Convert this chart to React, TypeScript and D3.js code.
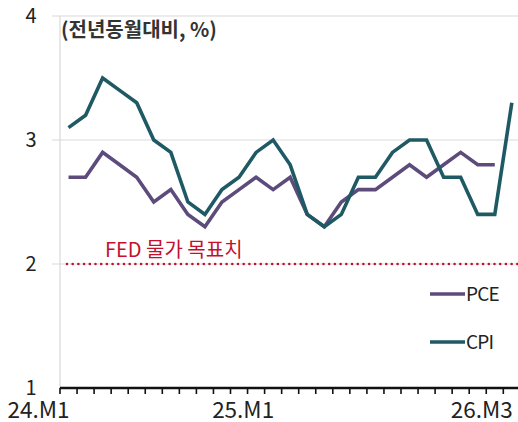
import React from "react";
import * as d3 from "d3";

const months = [
  "24.M1","24.M2","24.M3","24.M4","24.M5","24.M6","24.M7","24.M8","24.M9","24.M10","24.M11","24.M12",
  "25.M1","25.M2","25.M3","25.M4","25.M5","25.M6","25.M7","25.M8","25.M9","25.M10","25.M11","25.M12",
  "26.M1","26.M2","26.M3",
];
const cpi = [3.1,3.2,3.5,3.4,3.3,3.0,2.9,2.5,2.4,2.6,2.7,2.9,3.0,2.8,2.4,2.3,2.4,2.7,2.7,2.9,3.0,3.0,2.7,2.7,2.4,2.4,3.3];
const pce = [2.7,2.7,2.9,2.8,2.7,2.5,2.6,2.4,2.3,2.5,2.6,2.7,2.6,2.7,2.4,2.3,2.5,2.6,2.6,2.7,2.8,2.7,2.8,2.9,2.8,2.8];
const yTicks = [1, 2, 3, 4];
const xLabels = ["24.M1", "25.M1", "26.M3"];
const target = 2;
const series = [
  { name: "PCE", values: pce, color: "#5d4b7c" },
  { name: "CPI", values: cpi, color: "#1f5a64" },
];

const FONT = "'Noto Sans CJK KR', 'Noto Sans', sans-serif";

export default function App() {
  const W = 518, H = 422;
  const x0 = 60, band = 17.05;
  const x = d3.scaleBand<string>().domain(months).range([x0, x0 + band * months.length]).paddingInner(0).paddingOuter(0);
  const y = d3.scaleLinear().domain([1, 4]).range([388, 16]);
  const cx = (m: string) => (x(m) as number) + x.bandwidth() / 2;
  const line = d3.line<number>().x((_, i) => cx(months[i])).y((v) => y(v));
  const xEnd = x0 + band * months.length;
  const boundaries = d3.range(months.length + 1).map((k) => x0 + k * x.bandwidth());

  return (
    <svg width={W} height={H} style={{ position: "absolute", left: 0, top: 0, background: "#fff" }} fontFamily={FONT}>
      {/* grid */}
      {yTicks.filter((t) => t > 1).map((t) => (
        <line key={t} x1={52} x2={W} y1={y(t)} y2={y(t)} stroke="#d9d9d9" strokeWidth={1.2} />
      ))}
      <line x1={60} x2={60} y1={y(4)} y2={y(1)} stroke="#d9d9d9" strokeWidth={1.2} />
      {/* y labels */}
      {yTicks.map((t) => (
        <text key={t} x={31} y={y(t) + 7} textAnchor="middle" fontSize={20} fill="#222">{t}</text>
      ))}
      {/* title */}
      <text x={61} y={37} fontSize={20} fontWeight={600} fill="#333">(전년동월대비, %)</text>
      {/* target line */}
      <line x1={67} x2={W} y1={y(target)} y2={y(target)} stroke="#c4102c" strokeWidth={2.6}
        strokeDasharray="0 5.7" strokeLinecap="round" />
      <text x={105} y={257} fontSize={20} fill="#c4102c">FED 물가 목표치</text>
      {/* series */}
      {series.map((s) => (
        <path key={s.name} d={line(s.values) || ""} fill="none" stroke={s.color} strokeWidth={3.6} strokeLinejoin="miter" />
      ))}
      {/* x axis */}
      <line x1={x0} x2={xEnd} y1={y(1)} y2={y(1)} stroke="#111" strokeWidth={2.6} />
      {boundaries.map((b, i) => (
        <line key={i} x1={b} x2={b} y1={y(1)} y2={y(1) + 6} stroke="#111" strokeWidth={1.6} />
      ))}
      {xLabels.map((l) => (
        <text key={l} x={cx(l) + 1} y={418} textAnchor="end" fontSize={22.5} fill="#222">{l}</text>
      ))}
      {/* legend */}
      {series.map((s, i) => (
        <g key={s.name} transform={`translate(430, ${294 + i * 48})`}>
          <line x1={0} x2={35} y1={0} y2={0} stroke={s.color} strokeWidth={3.6} />
          <text x={36} y={7} fontSize={19} fill="#222" letterSpacing={-0.8}>{s.name}</text>
        </g>
      ))}
    </svg>
  );
}
